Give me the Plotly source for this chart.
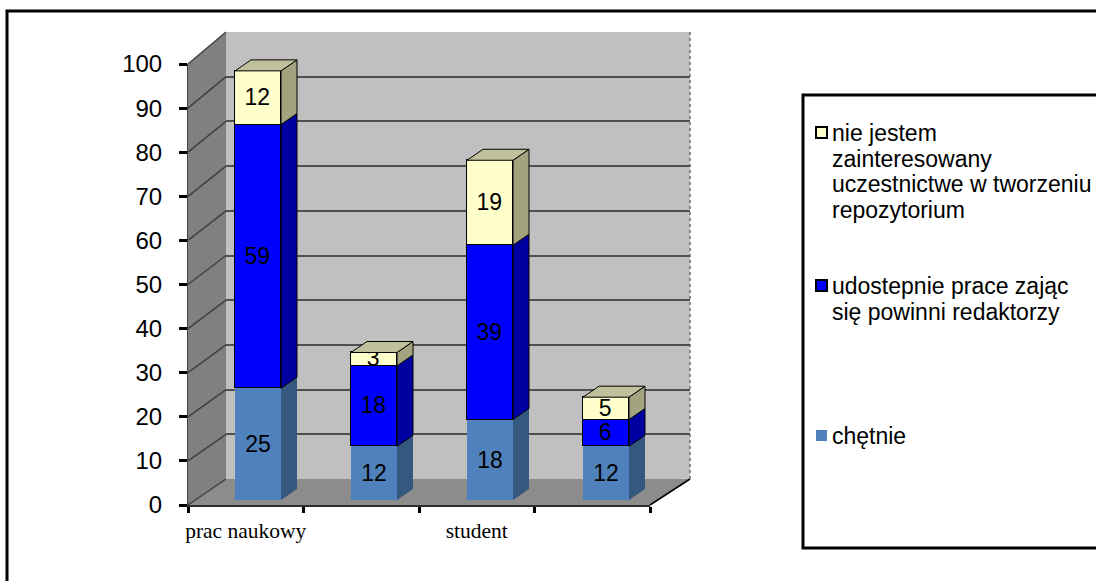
import plotly.graph_objects as go

W, H = 1096, 581

categories = ["prac naukowy", "", "student", ""]
series_names = [
    "chętnie",
    "udostepnie prace zając<br>się powinni redaktorzy",
    "nie jestem<br>zainteresowany<br>uczestnictwe w tworzeniu<br>repozytorium",
]
chetnie = [25, 12, 18, 12]
udostepnie = [59, 18, 39, 6]
nie_jestem = [12, 3, 19, 5]
series_values = [chetnie, udostepnie, nie_jestem]
front_colors = ["#4F81BD", "#0000FF", "#FFFFCC"]
side_colors = ["#34587F", "#0000A0", "#A3A37F"]
top_color = "#C0C09C"
y_ticks = list(range(0, 101, 10))


def px(x):
    return x / W


def py(y):
    return 1 - y / H


# front plane of the chart box
FX0, FX1, FY0, FY100 = 188, 650, 505, 64
# back wall
BX0, BX1, BY0, BY100 = 226, 690, 479, 32
# plane of the front faces of the bars
BAR_CENTER0, BAR_STEP, BAR_Y0, BAR_SCALE = 258, 116, 500, 4.47
BAR_W, SIDE_DX, SIDE_DY = 46, 16, 11

fig = go.Figure()

# frame, walls and floor (under the grid)
shapes = [
    dict(type="rect", xref="paper", yref="paper", x0=px(7), x1=px(1110), y0=py(11), y1=py(600),
         line=dict(color="#000000", width=3), fillcolor="#FFFFFF", layer="below"),
    dict(type="rect", xref="paper", yref="paper", x0=px(BX0), x1=px(BX1), y0=py(BY0), y1=py(BY100),
         line=dict(width=0), fillcolor="#C0C0C0", layer="below"),
    dict(type="path", xref="paper", yref="paper", layer="below", fillcolor="#808080",
         line=dict(width=0),
         path=f"M{px(FX0)},{py(FY0)} L{px(FX0)},{py(FY100)} L{px(BX0)},{py(BY100)} L{px(BX0)},{py(BY0)} Z"),
    dict(type="path", xref="paper", yref="paper", layer="below", fillcolor="#8C8C8C",
         line=dict(width=0),
         path=f"M{px(FX0)},{py(FY0)} L{px(FX1)},{py(FY0)} L{px(BX1)},{py(BY0)} L{px(BX0)},{py(BY0)} Z"),
    dict(type="line", xref="paper", yref="paper", x0=px(FX1), y0=py(FY0), x1=px(BX1), y1=py(BY0),
         line=dict(color="#000000", width=1.5), layer="below"),
    dict(type="line", xref="paper", yref="paper", x0=px(BX1), y0=py(BY0), x1=px(BX1), y1=py(BY100),
         line=dict(color="#707070", width=1.5, dash="dot"), layer="below"),
]
for v in y_ticks:
    fy = FY0 + (FY100 - FY0) * v / 100
    by = BY0 + (BY100 - BY0) * v / 100
    shapes.append(dict(type="line", xref="paper", yref="paper", x0=px(FX0), y0=py(fy), x1=px(BX0), y1=py(by),
                       line=dict(color="#404040", width=1.5), layer="below"))

# legend box
shapes.append(dict(type="rect", xref="paper", yref="paper", x0=px(803), x1=px(1110), y0=py(95), y1=py(548),
                   line=dict(color="#000000", width=3), fillcolor="#FFFFFF", layer="below"))

# back wall grid (own axes)
fig.add_trace(go.Scatter(x=[0, 1], y=[0, 0], mode="lines", line=dict(width=0), hoverinfo="skip",
                         showlegend=False, xaxis="x", yaxis="y"))
# front plane axes
fig.add_trace(go.Scatter(x=[0, 4], y=[0, 0], mode="lines", line=dict(width=0), hoverinfo="skip",
                         showlegend=False, xaxis="x2", yaxis="y2"))

# bars
xs = list(range(len(categories)))
for name, vals, col in zip(series_names, series_values, front_colors):
    outlined = col != front_colors[0]
    fig.add_trace(go.Bar(
        x=xs, y=vals, name=name.replace("<br>", " "), width=BAR_W / BAR_STEP,
        marker=dict(color=col, line=dict(color="#000000", width=1.5 if outlined else 0)),
        text=[str(v) for v in vals], textposition="inside", insidetextanchor="middle",
        textangle=0, constraintext="none", cliponaxis=False,
        textfont=dict(family="Liberation Sans", size=23, color="#000000"),
        showlegend=False, xaxis="x3", yaxis="y3",
    ))

# 3D side and top faces, derived from the values
dx = SIDE_DX / BAR_STEP
dy = SIDE_DY / BAR_SCALE
hw = BAR_W / BAR_STEP / 2
for i in xs:
    base = 0
    for s, vals in enumerate(series_values):
        v0, v1 = base, base + vals[i]
        base = v1
        lw = 0 if s == 0 else 1
        fig.add_trace(go.Scatter(
            x=[i + hw, i + hw + dx, i + hw + dx, i + hw, i + hw],
            y=[v0, v0 + dy, v1 + dy, v1, v0],
            mode="lines", fill="toself", fillcolor=side_colors[s],
            line=dict(color="#000000" if s else side_colors[s], width=lw),
            hoverinfo="skip", showlegend=False, xaxis="x3", yaxis="y3"))
    fig.add_trace(go.Scatter(
        x=[i - hw, i + hw, i + hw + dx, i - hw + dx, i - hw],
        y=[base, base, base + dy, base + dy, base],
        mode="lines", fill="toself", fillcolor=top_color,
        line=dict(color="#000000", width=1),
        hoverinfo="skip", showlegend=False, xaxis="x3", yaxis="y3"))

# legend entries, one annotation per text line
ann = []
legend_y = [133, 286, 436]
legend_marks = [
    (2, "#FFFFCC", True),
    (1, "#0000FF", True),
    (0, "#4F81BD", False),
]
LINE_H = 25.6
for (idx, col, outl), ly in zip(legend_marks, legend_y):
    for k, line in enumerate(series_names[idx].split("<br>")):
        ann.append(dict(text=line, xref="paper", yref="paper", x=px(831), y=py(ly + k * LINE_H),
                        xanchor="left", yanchor="middle", align="left", showarrow=False, borderpad=0,
                        font=dict(family="Liberation Sans", size=23, color="#000000")))
    shapes.append(dict(type="rect", xref="paper", yref="paper", x0=px(816), x1=px(827),
                       y0=py(ly - 6), y1=py(ly + 5), fillcolor=col, layer="above",
                       line=dict(color="#000000", width=2 if outl else 0)))

fig.update_layout(
    width=W, height=H, margin=dict(l=0, r=0, t=0, b=0),
    paper_bgcolor="#FFFFFF", plot_bgcolor="rgba(0,0,0,0)",
    barmode="stack", bargap=0, shapes=shapes, annotations=ann, showlegend=False,
    xaxis=dict(domain=[px(BX0), px(BX1)], range=[0, 1], visible=False, anchor="y", automargin=False),
    yaxis=dict(domain=[py(BY0), py(BY100)], range=[0, 100], dtick=10, showgrid=True,
               gridcolor="#505050", gridwidth=1.5, zeroline=False, showticklabels=False,
               ticks="", showline=False, anchor="x", automargin=False),
    xaxis2=dict(domain=[px(FX0), px(FX1)], range=[0, 4], anchor="y2", showgrid=False, zeroline=False,
                tickmode="array", tickvals=[0.5, 1.5, 2.5, 3.5], ticktext=categories, ticks="",
                tickfont=dict(family="Liberation Serif", size=21.5, color="#000000"),
                ticklabelstandoff=5,
                showline=True, linecolor="#303030", linewidth=2, automargin=False,
                minor=dict(tickmode="array", tickvals=[0, 1, 2, 3, 4], ticks="outside", ticklen=6,
                           tickwidth=3, tickcolor="#000000", showgrid=False)),
    yaxis2=dict(domain=[py(FY0), py(FY100)], range=[0, 100], anchor="x2", tickvals=y_ticks,
                showgrid=False, zeroline=False, ticks="outside", ticklen=8, tickwidth=3,
                tickcolor="#000000", showline=True, linecolor="#404040", linewidth=1,
                ticklabelstandoff=12, automargin=False,
                tickfont=dict(family="Liberation Sans", size=24, color="#000000")),
    xaxis3=dict(domain=[0, 1], range=[(0 - BAR_CENTER0) / BAR_STEP, (W - BAR_CENTER0) / BAR_STEP],
                visible=False, anchor="y3", automargin=False),
    yaxis3=dict(domain=[0, 1], range=[(BAR_Y0 - H) / BAR_SCALE, BAR_Y0 / BAR_SCALE],
                visible=False, anchor="x3", automargin=False),
)

fig.write_html("out.html", config=dict(displayModeBar=False),
               post_script="document.body.style.margin='0';document.body.style.overflow='hidden';")
